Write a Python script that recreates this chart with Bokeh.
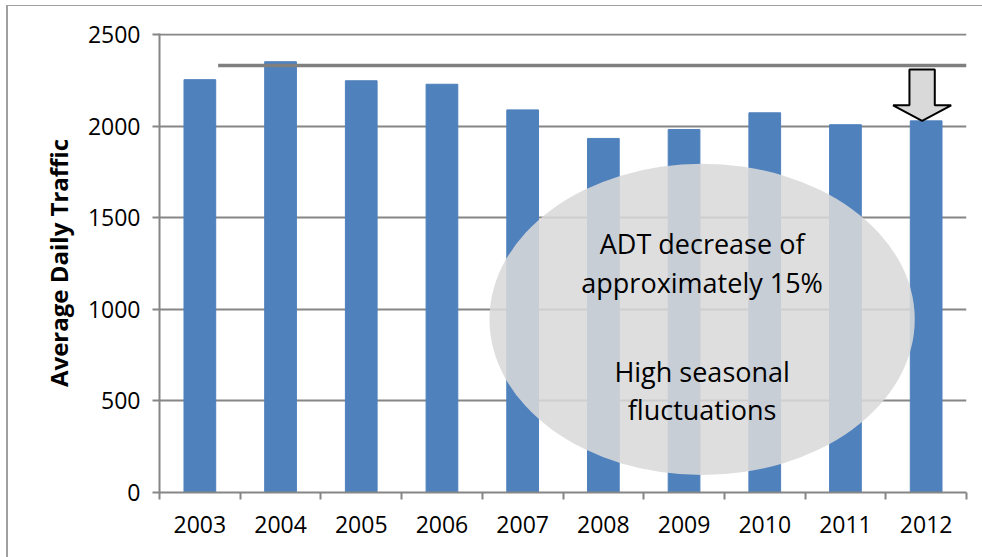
from bokeh.plotting import figure
from bokeh.models import Range1d, FixedTicker
from bokeh.core.properties import value
from bokeh.embed import file_html
from bokeh.resources import INLINE

# ---- data ----
years = ["2003", "2004", "2005", "2006", "2007", "2008", "2009", "2010", "2011", "2012"]
adt = [2254, 2352, 2248, 2229, 2089, 1933, 1982, 2073, 2008, 2029]
reference_level = 2331
y_ticks = [0, 500, 1000, 1500, 2000, 2500]
note_lines = ["ADT decrease of", "approximately 15%", "High seasonal", "fluctuations"]

GRAY = "#868686"
FONT = "Open Sans"
W, H = 982, 557
n = len(years)
idx = list(range(n))

p = figure(width=W, height=H, output_backend="svg", toolbar_location=None,
           x_range=Range1d(-0.5, n - 0.5), y_range=Range1d(0, 2506),
           min_border_left=159, min_border_right=16, min_border_top=33,
           min_border_bottom=65)
p.outline_line_color = None
p.background_fill_color = "white"
p.border_fill_alpha = 0
p.styles = {"box-shadow": "inset 6px 5px 0 0 #ffffff, inset 8px 6px 0 0 #a0a0a0",
            "background-color": "white"}

# grid
p.xgrid.visible = False
p.ygrid.ticker = FixedTicker(ticks=y_ticks)
p.ygrid.grid_line_color = GRAY
p.ygrid.grid_line_width = 2

# y axis
yax = p.yaxis[0]
yax.ticker = FixedTicker(ticks=y_ticks)
yax.axis_line_color = GRAY
yax.axis_line_width = 2
yax.major_tick_line_color = GRAY
yax.major_tick_line_width = 2
yax.major_tick_out = 7
yax.major_tick_in = 0
yax.minor_tick_line_color = None
yax.major_label_text_font = FONT
yax.major_label_text_font_size = "23px"
yax.major_label_text_color = "black"
yax.major_label_standoff = 12
yax.axis_label = "Average Daily Traffic"
yax.axis_label_text_font = FONT
yax.axis_label_text_font_size = "24px"
yax.axis_label_text_font_style = "bold"
yax.axis_label_text_color = "black"
yax.axis_label_standoff = 10

# x axis: labels at centers, tick marks at category boundaries
xax = p.xaxis[0]
xax.ticker = FixedTicker(ticks=idx, minor_ticks=[i - 0.5 for i in range(n + 1)])
xax.major_label_overrides = {i: y for i, y in zip(idx, years)}
xax.axis_line_color = GRAY
xax.axis_line_width = 2
xax.major_tick_line_color = None
xax.major_tick_out = 0
xax.major_tick_in = 0
xax.minor_tick_line_color = GRAY
xax.minor_tick_line_width = 2
xax.minor_tick_out = 7
xax.minor_tick_in = 0
xax.major_label_text_font = FONT
xax.major_label_text_font_size = "23px"
xax.major_label_text_color = "black"
xax.major_label_standoff = 16

# bars
bar_w = 0.393
p.vbar(x=idx, top=adt, width=bar_w, fill_color="#4f81bd", line_color="#4f81bd")

# reference level line (from first bar's right edge to the right end)
p.segment(x0=[idx[0] + bar_w / 2 + 0.03], x1=[n - 0.5], y0=[reference_level],
          y1=[reference_level], line_color="#7f7f7f", line_width=3.5)

# block arrow pointing to the last bar
tip_x = idx[-1] - 0.05
tip_y = adt[-1]
shaft_hw, head_hw = 0.157, 0.36
head_top = tip_y + 85
shaft_top = reference_level - 22
ax = [tip_x - shaft_hw, tip_x + shaft_hw, tip_x + shaft_hw, tip_x + head_hw, tip_x,
      tip_x - head_hw, tip_x - shaft_hw]
ay = [shaft_top, shaft_top, head_top, head_top, tip_y, head_top, head_top]
p.patch(ax, ay, fill_color="#d9d9d9", line_color="black", line_width=2)

# ellipse callout
ex, ey = 6.224, 945
p.ellipse(x=[ex], y=[ey], width=5.27, height=1700, fill_color="#d9d9d9",
          fill_alpha=0.87, line_color=None)
p.text(x=[ex] * 4, y=[1360, 1148, 662, 455], text=note_lines,
       text_align="center", text_baseline="alphabetic",
       text_font=value(FONT), text_font_size="27px", text_color="black")

open("out.html", "w").write(file_html(p, INLINE))
